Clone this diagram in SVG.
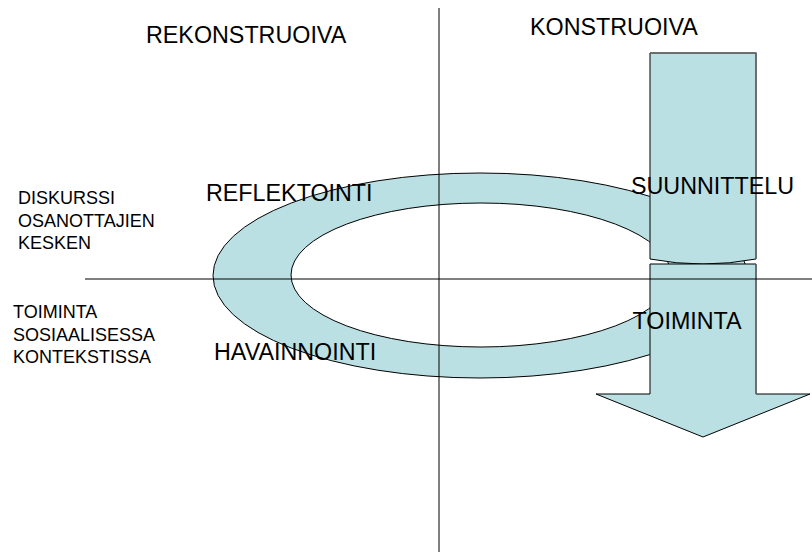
<svg xmlns="http://www.w3.org/2000/svg" width="812" height="554" viewBox="0 0 812 554">
  <style>
    .shape { fill: #bbe0e3; stroke: #000; stroke-width: 1; }
    .edge { fill: none; stroke: #6b6b6b; stroke-width: 1.5; }
    .axis { stroke: #000; stroke-width: 1; fill: none; }
    .big { font-family: "Liberation Sans", Arial, sans-serif; font-size: 23.3px; fill: #000; }
    .small { font-family: "Liberation Sans", Arial, sans-serif; font-size: 18px; fill: #000; }
  </style>
  <rect width="812" height="554" fill="#fff"/>

  <!-- Reflection / observation cycle: elliptical ring -->
  <g id="cycle-ring">
    <path class="shape" fill-rule="evenodd"
          d="M213,275.5 A267,102.5 0 1 0 747,275.5 A267,102.5 0 1 0 213,275.5 Z
             M291,275 A190,72 0 1 0 671,275 A190,72 0 1 0 291,275 Z"/>
  </g>

  <!-- Planning block (upper part of the arrow) -->
  <g id="planning-block">
    <path class="shape" d="M650,53 H756 V259 Q703,269 650,259 Z"/>
    <path class="edge" d="M650,53 H756 V259"/>
  </g>

  <!-- Action block ending in the downward arrow head -->
  <g id="action-arrow">
    <path class="shape" d="M650,264 H756 V394 H810 L703,437 L596,394 H650 Z"/>
    <path class="edge" d="M756,264 V394"/>
  </g>

  <!-- Quadrant axes -->
  <g id="axes">
    <line class="axis" x1="439" y1="8" x2="439" y2="552"/>
    <line class="axis" x1="85" y1="279" x2="812" y2="279"/>
  </g>

  <!-- Column headings -->
  <g id="headings">
    <text class="big" x="146" y="43">REKONSTRUOIVA</text>
    <text class="big" x="530" y="35">KONSTRUOIVA</text>
  </g>

  <!-- Row headings -->
  <g id="row-discourse">
    <text class="small" x="18" y="204">DISKURSSI</text>
    <text class="small" x="18" y="226.5">OSANOTTAJIEN</text>
    <text class="small" x="18" y="249">KESKEN</text>
  </g>
  <g id="row-action">
    <text class="small" x="13" y="318">TOIMINTA</text>
    <text class="small" x="13" y="340.5">SOSIAALISESSA</text>
    <text class="small" x="13" y="363">KONTEKSTISSA</text>
  </g>

  <!-- Phase labels -->
  <g id="phase-labels">
    <text class="big" x="206" y="201">REFLEKTOINTI</text>
    <text class="big" x="214" y="360">HAVAINNOINTI</text>
    <text class="big" x="631" y="194">SUUNNITTELU</text>
    <text class="big" x="632.5" y="329">TOIMINTA</text>
  </g>
</svg>
